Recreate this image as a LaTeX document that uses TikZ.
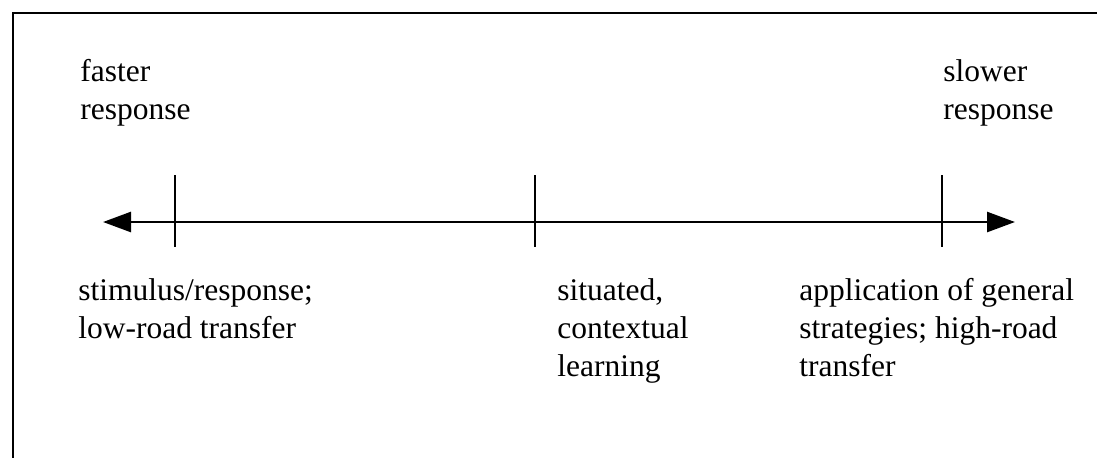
\documentclass[tikz,border=0pt]{standalone}
\usepackage{fontspec}
\setmainfont{Liberation Serif}
\usetikzlibrary{positioning, arrows.meta}

\begin{document}
\begin{tikzpicture}[
  x=0.5pt, y=-0.5pt,
  font=\fontsize{15.75}{19}\selectfont,
  lbl/.style={inner sep=0pt, anchor=base west, align=left},
  axis/.style={{Triangle[length=14pt, width=10pt]}-{Triangle[length=14pt, width=10pt]}, line width=1.3pt},
  tickline/.style={line width=1.3pt},
  frame/.style={line width=1.3pt}
]
  \useasboundingbox (0,0) rectangle (1097,457);
  \draw[frame] (13,460) |- (1100,13);

  % speed labels (base = last line)
  \node[lbl] (fast) at (80,119) {faster\\response};
  \node[lbl] (slow) at (943,119) {slower\\response};

  % the scale
  \coordinate (lend) at (103,222);
  \coordinate (rend) at (1015,222);
  \draw[axis] (lend) -- (rend);
  \foreach \i/\x in {1/175, 2/535, 3/942} {
    \coordinate (t\i) at (\x,175);
    \coordinate (b\i) at (\x,247);
    \draw[tickline] (t\i) -- (b\i);
  }

  % kinds of learning
  \node[lbl] (stim) at (78,338) {stimulus/response;\\low-road transfer};
  \node[lbl] (sit) at (557,376) {situated,\\contextual\\learning};
  \node[lbl] (app) at (799,376) {application of general\\strategies; high-road\\transfer};
\end{tikzpicture}
\end{document}
